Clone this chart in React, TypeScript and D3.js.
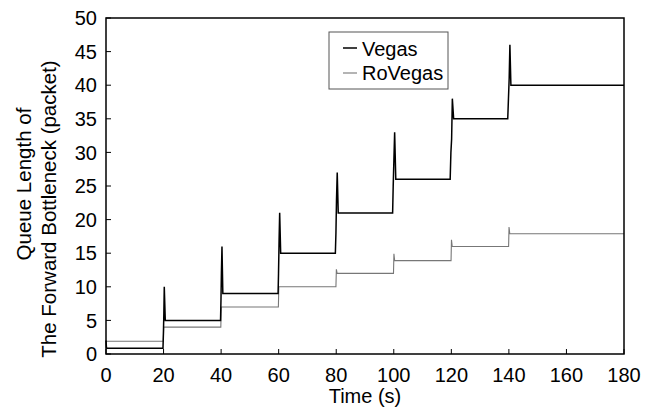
import React from "react";
import * as d3 from "d3";

// Time (s) and queue length (packets) for each series
const vegasTime = [0, 0.15, 0.3, 19.8, 19.95, 20.1, 20.25, 20.6, 39.8, 39.95, 40.1, 40.3, 40.6, 59.8, 59.95, 60.15, 60.35, 60.7, 79.7, 79.9, 80.1, 80.35, 80.7, 99.6, 99.8, 100.05, 100.3, 100.7, 119.6, 119.85, 120.1, 120.35, 120.8, 139.6, 139.85, 140.1, 140.35, 140.7, 180];
const vegasQueue = [2, 1, 0.85, 0.85, 3, 6, 10, 5, 5, 8, 12, 16, 9, 9, 12, 17, 21, 15, 15, 18, 23, 27, 21, 21, 25, 29, 33, 26, 26, 30, 32, 38, 35, 35, 38, 41, 46, 40, 40];

const roTime = [0, 19.9, 20.05, 39.9, 40.05, 59.9, 60.05, 79.9, 80.05, 80.3, 99.9, 100.05, 100.3, 119.9, 120.05, 120.3, 139.9, 140.05, 140.3, 180];
const roQueue = [1.9, 1.9, 4, 4, 7, 7, 10, 10, 12.6, 12, 12, 14.9, 13.9, 13.9, 17, 16, 16, 18.9, 17.9, 17.9];

const xTicks = [0, 20, 40, 60, 80, 100, 120, 140, 160, 180];
const yTicks = [0, 5, 10, 15, 20, 25, 30, 35, 40, 45, 50];
const seriesNames = ["Vegas", "RoVegas"];
const seriesColors = ["#000000", "#777777"];

export default function App() {
  const W = 661, H = 416;
  const L = 106, R = 624, T = 18, B = 354;
  const x = d3.scaleLinear().domain([0, 180]).range([L, R]);
  const y = d3.scaleLinear().domain([0, 50]).range([B, T]);
  const line = d3.line<[number, number]>().x(d => x(d[0])).y(d => y(d[1]));
  const vegas = vegasTime.map((t, i) => [t, vegasQueue[i]] as [number, number]);
  const ro = roTime.map((t, i) => [t, roQueue[i]] as [number, number]);
  const font = "'Liberation Sans', Arial, Helvetica, sans-serif";
  return (
    <svg width={W} height={H} style={{ position: "absolute", left: 0, top: 0, background: "#fff" }} fontFamily={font}>
      <rect x={0} y={0} width={W} height={H} fill="#fff" />
      <path d={line(ro) || ""} fill="none" stroke={seriesColors[1]} strokeWidth={1.1} />
      <path d={line(vegas) || ""} fill="none" stroke={seriesColors[0]} strokeWidth={1.5} />
      {xTicks.map(t => (
        <g key={"x" + t}>
          <line x1={x(t)} x2={x(t)} y1={B} y2={B - 5} stroke="#000" strokeWidth={1} />
          <text x={x(t)} y={382} textAnchor="middle" fontSize={20}>{t}</text>
        </g>
      ))}
      {yTicks.map(t => (
        <g key={"y" + t}>
          <line x1={L} x2={L + 5} y1={y(t)} y2={y(t)} stroke="#000" strokeWidth={1} />
          <text x={97} y={y(t)} dy="0.36em" textAnchor="end" fontSize={20}>{t}</text>
        </g>
      ))}
      <rect x={L} y={T} width={R - L} height={B - T} fill="none" stroke="#000" strokeWidth={1.5} />
      <text x={(L + R) / 2} y={403} textAnchor="middle" fontSize={20}>Time (s)</text>
      <text transform={`translate(31,184) rotate(-90)`} textAnchor="middle" fontSize={20.5}>Queue Length of</text>
      <text transform={`translate(56,209) rotate(-90)`} textAnchor="middle" fontSize={20.5}>The Forward Bottleneck (packet)</text>
      <g>
        <rect x={329} y={32} width={119} height={57} fill="#fff" stroke="#555" strokeWidth={1} />
        {seriesNames.map((n, i) => (
          <g key={n}>
            <line x1={343} x2={357} y1={48 + i * 25} y2={48 + i * 25} stroke={seriesColors[i]} strokeWidth={i === 0 ? 1.5 : 1.1} />
            <text x={362} y={56 + i * 24} fontSize={20}>{n}</text>
          </g>
        ))}
      </g>
    </svg>
  );
}
